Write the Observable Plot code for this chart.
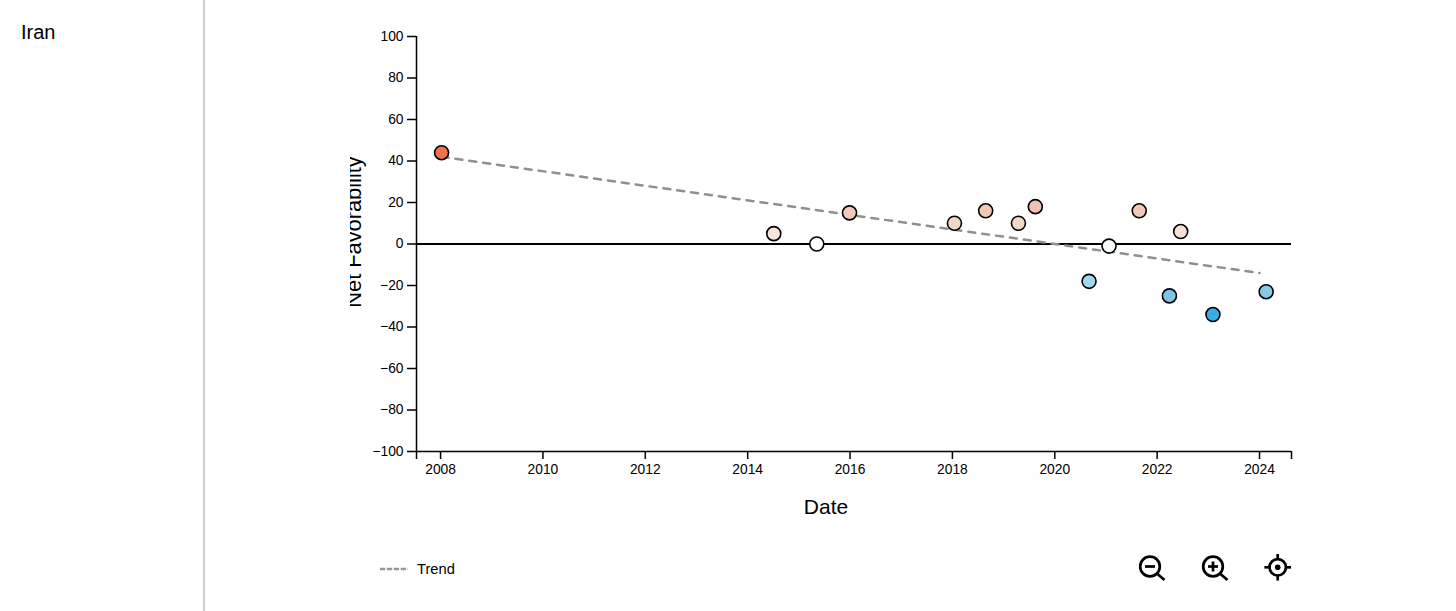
<!DOCTYPE html>
<html>
<head>
<meta charset="utf-8">
<script src="https://cdn.jsdelivr.net/npm/d3@7"></script>
<script src="https://cdn.jsdelivr.net/npm/@observablehq/plot@0.6"></script>
<style>
  html, body { margin: 0; padding: 0; background: #fff; overflow: hidden; }
  #page { position: relative; width: 1456px; height: 611px; font-family: "Liberation Sans", Arial, sans-serif; color: #000; }
  #page svg { display: block; }
  .abs { position: absolute; }
  #country { left: 21px; top: 20px; font-size: 20px; line-height: 24px; }
  #divider { left: 203px; top: 0; width: 2px; height: 611px; background: #cfcfcf; }
  #ylab { left: 350px; top: 153px; width: 18px; height: 157px; overflow: hidden; }
  #ylab span { position: absolute; left: -8px; top: 50%; white-space: nowrap; font-size: 21.8px; line-height: 24px;
    writing-mode: vertical-rl; transform: translateY(-50%) rotate(180deg); }
  #trendLabel { left: 417px; top: 560px; font-size: 14.7px; line-height: 18px; }
</style>
</head>
<body>
<div id="page">
  <div id="chart"></div>
  <div class="abs" id="country">Iran</div>
  <div class="abs" id="divider"></div>
  <div class="abs" id="ylab"><span>Net Favorability</span></div>
  <svg class="abs" style="left:380px;top:564px" width="28" height="10"><line x1="0" y1="5" x2="28" y2="5" stroke="#999" stroke-width="2.5" stroke-dasharray="5.3 1.6"/></svg>
  <div class="abs" id="trendLabel">Trend</div>
  <svg class="abs" style="left:1136px;top:551px" width="32" height="32" fill="none" stroke="#000" stroke-width="2.7">
    <circle cx="14" cy="15.5" r="9.8"/><line x1="9" y1="15.5" x2="19" y2="15.5"/><line x1="21.5" y1="23" x2="28.5" y2="29"/>
  </svg>
  <svg class="abs" style="left:1199px;top:551px" width="32" height="32" fill="none" stroke="#000" stroke-width="2.7">
    <circle cx="14" cy="15.5" r="9.8"/><line x1="9" y1="15.5" x2="19" y2="15.5"/><line x1="14" y1="10.5" x2="14" y2="20.5"/><line x1="21.5" y1="23" x2="28.5" y2="29"/>
  </svg>
  <svg class="abs" style="left:1262px;top:551px" width="32" height="32" fill="none" stroke="#000" stroke-width="2.7">
    <circle cx="15.7" cy="16.3" r="8.2"/><circle cx="15.7" cy="16.3" r="2.8" fill="#000" stroke="none"/>
    <line x1="15.7" y1="3" x2="15.7" y2="9"/><line x1="15.7" y1="23.6" x2="15.7" y2="29.6"/><line x1="2.4" y1="16.3" x2="8.4" y2="16.3"/><line x1="23" y1="16.3" x2="29" y2="16.3"/>
  </svg>
</div>
<script>
const dateYears = [2008.02, 2014.51, 2015.35, 2015.99, 2018.04, 2018.65, 2019.29, 2019.62, 2020.67, 2021.06, 2021.65, 2022.24, 2022.46, 2023.09, 2024.13];
const netFavorability = [44, 5, 0, 15, 10, 16, 10, 18, -18, -1, 16, -25, 6, -34, -23];
const trendYears = [2008.02, 2024];
const trendValues = [42, -14];
const xDomain = [2007.53, 2024.625];
const xTickYears = [2008, 2010, 2012, 2014, 2016, 2018, 2020, 2022, 2024];
const yTicks = [-100, -80, -60, -40, -20, 0, 20, 40, 60, 80, 100];
const colorStops = [-34, -25, -18, 0, 6, 18, 44];
const colorRange = ["#3aabde", "#7fc4e6", "#a3d5ee", "#ffffff", "#f8e0d8", "#f0c3b2", "#f2714f"];

const points = dateYears.map((d, i) => ({date: d, value: netFavorability[i]}));
const trend = trendYears.map((d, i) => ({date: d, value: trendValues[i]}));

const plot = Plot.plot({
  width: 1456,
  height: 611,
  marginLeft: 416,
  marginRight: 165,
  marginTop: 36,
  marginBottom: 160,
  style: {fontFamily: '"Liberation Sans", Arial, sans-serif', fontSize: "13.8px", color: "#000", background: "transparent"},
  x: {domain: xDomain, label: null},
  y: {domain: [-100, 100], label: null},
  color: {type: "linear", domain: colorStops, range: colorRange},
  marks: [
    Plot.axisY({ticks: yTicks, tickSize: 9, tickPadding: 4, label: null, stroke: "#000", strokeWidth: 1.5, strokeOpacity: 1, fill: "#000"}),
    Plot.axisX({ticks: [xDomain[0], ...xTickYears, xDomain[1]], tickSize: 8, tickPadding: 5, label: null, stroke: "#000", strokeWidth: 1.5, strokeOpacity: 1, fill: "#000",
      tickFormat: d => xTickYears.includes(d) ? String(d) : ""}),
    Plot.ruleX([xDomain[0]], {stroke: "#000", strokeWidth: 1.5}),
    Plot.ruleY([-100], {stroke: "#000", strokeWidth: 1.5}),
    Plot.ruleY([0], {stroke: "#000", strokeWidth: 1.8}),
    Plot.line(trend, {x: "date", y: "value", stroke: "#8f8f8f", strokeWidth: 2.5, strokeDasharray: "7 7"}),
    Plot.dot(points, {x: "date", y: "value", r: 7, fill: "value", stroke: "#000", strokeWidth: 1.6}),
    Plot.text(["Date"], {frameAnchor: "bottom", dx: -28, dy: 62, fontSize: 21, fill: "#000"})
  ]
});
document.getElementById("chart").appendChild(plot);
</script>
</body>
</html>
